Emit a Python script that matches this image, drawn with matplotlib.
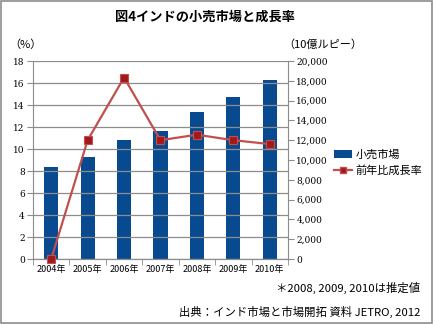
import matplotlib
matplotlib.use("Agg")
import matplotlib.pyplot as plt
from matplotlib.patches import Rectangle
from matplotlib.lines import Line2D
from matplotlib.patches import Patch
import numpy as np

plt.rcParams['font.family'] = ['Noto Sans CJK JP', 'DejaVu Sans']

years = ["2004年", "2005年", "2006年", "2007年", "2008年", "2009年", "2010年"]
retail = [9300, 10300, 12000, 12950, 14800, 16400, 18100]
growth = [0.0, 10.8, 16.5, 10.8, 11.3, 10.8, 10.45]
left_ticks = [0, 2, 4, 6, 8, 10, 12, 14, 16, 18]
right_ticks = [0, 2000, 4000, 6000, 8000, 10000, 12000, 14000, 16000, 18000, 20000]

fig = plt.figure(figsize=(4.33, 3.24), dpi=100)
fig.patches.append(Rectangle((0.002, 0.003), 0.995, 0.994, transform=fig.transFigure,
                             fill=False, edgecolor='#8c8c8c', linewidth=1.2))

ax = fig.add_axes([0.0762, 0.2006, 0.5888, 0.6111])
ax2 = ax.twinx()
x = np.arange(len(years))

# bars on right axis
ax2.bar(x, retail, width=0.39, color='#084a90', zorder=2)
ax2.set_ylim(0, 20000)
ax2.set_yticks(right_ticks)
ax2.set_yticklabels([f"{v:,}" for v in right_ticks], family='DejaVu Serif', fontsize=6.5)

ax.set_ylim(0, 18)
ax.set_xlim(-0.5, len(years) - 0.5)
ax.set_yticks(left_ticks)
ax.set_yticklabels([str(v) for v in left_ticks], family='DejaVu Serif', fontsize=6.5)
ax.yaxis.grid(True, color='#8c8c8c', linewidth=0.9)
ax.set_axisbelow(True)

# line drawn above bars: put ax in front
ax.set_zorder(ax2.get_zorder() + 1)
ax.patch.set_visible(False)
ax.plot(x, growth, color='#c0504d', linewidth=1.6, marker='s', markersize=5.5,
        markerfacecolor='#a3191b', markeredgecolor='#c0504d', markeredgewidth=0.8, zorder=3,
        clip_on=False)

ax.set_xticks(x)
ax.set_xticklabels(years, fontsize=6.5)
ax.set_xticks(np.arange(-0.5, len(years) + 0.5, 1), minor=True)
ax.tick_params(axis='x', which='major', length=0, pad=4)
ax.tick_params(axis='x', which='minor', length=4, color='#8c8c8c', direction='out')
ax.tick_params(axis='y', length=4, color='#8c8c8c', pad=2)
ax2.tick_params(axis='y', length=4, color='#8c8c8c', pad=2)

for a in (ax, ax2):
    for s in ['top']:
        a.spines[s].set_visible(False)
    for s in ['left', 'right', 'bottom']:
        a.spines[s].set_color('#8c8c8c')
ax2.spines['left'].set_visible(False)
ax.spines['right'].set_visible(False)

fig.text(0.474, 0.947, "図4インドの小売市場と成長率", ha='center', va='center',
         fontsize=9.5, fontweight='bold')
fig.text(0.022, 0.862, "（%）", ha='left', va='center', fontsize=8)
fig.text(0.655, 0.862, "（10億ルピー）", ha='left', va='center', fontsize=8)

handles = [Patch(facecolor='#084a90'),
           Line2D([0], [0], color='#c0504d', linewidth=1.6, marker='s', markersize=5,
                  markerfacecolor='#a3191b', markeredgecolor='#c0504d')]
fig.legend(handles, ["小売市場", "前年比成長率"], loc='center left',
           bbox_to_anchor=(0.76, 0.497), frameon=False, fontsize=8,
           handlelength=1.7, handletextpad=0.3, labelspacing=0.5, borderaxespad=0)

fig.text(0.97, 0.11, "＊2008, 2009, 2010は推定値", ha='right', va='center', fontsize=8.2)
fig.text(0.97, 0.037, "出典：インド市場と市場開拓 資料 JETRO, 2012", ha='right', va='center', fontsize=8.2)

fig.savefig("out.png", dpi=100)
